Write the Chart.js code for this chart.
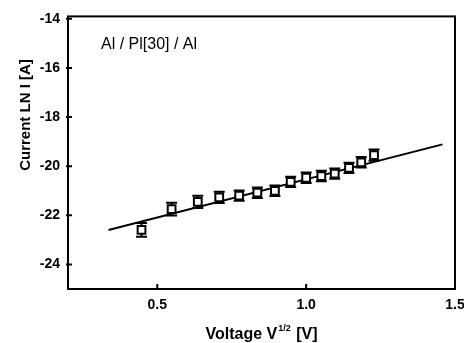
<!DOCTYPE html>
<html>
<head>
<meta charset="utf-8">
<script src="https://cdn.jsdelivr.net/npm/chart.js@4/dist/chart.umd.min.js"></script>
<style>
  html, body { margin: 0; padding: 0; background: #fff; }
  #wrap { width: 464px; height: 343px; }
</style>
</head>
<body>
<div id="wrap"><canvas id="ivChart"></canvas></div>
<script>
const voltageSqrt = [0.447, 0.548, 0.636, 0.708, 0.775, 0.836, 0.895, 0.948, 1.0, 1.051, 1.096, 1.144, 1.185, 1.228];
const lnCurrent   = [-22.59, -21.75, -21.45, -21.27, -21.2, -21.08, -21.0, -20.64, -20.47, -20.4, -20.3, -20.07, -19.84, -19.55];
const errLn       = [0.28, 0.26, 0.25, 0.23, 0.21, 0.21, 0.21, 0.21, 0.21, 0.21, 0.21, 0.21, 0.21, 0.23];

// linear fit end points
const fitX = [0.336, 1.458];
const fitY = [-22.6, -19.11];

const xTicks = [0.5, 1.0, 1.5];
const yTicks = [-24, -22, -20, -18, -16, -14];
const sampleLabel = 'Al / Pl[30] / Al';

Chart.defaults.font.family = '"Liberation Sans", Arial, sans-serif';
Chart.defaults.color = '#000';

// error bars + frame + inward ticks + axis titles
const decorations = {
  id: 'decorations',
  beforeDatasetsDraw(chart) {
    const ctx = chart.ctx;
    const xs = chart.scales.x, ys = chart.scales.y;
    ctx.save();
    ctx.strokeStyle = '#000';
    ctx.lineWidth = 2;
    voltageSqrt.forEach((v, i) => {
      const px = xs.getPixelForValue(v);
      const top = ys.getPixelForValue(lnCurrent[i] + errLn[i]);
      const bot = ys.getPixelForValue(lnCurrent[i] - errLn[i]);
      ctx.beginPath();
      ctx.moveTo(px, top); ctx.lineTo(px, bot);
      ctx.moveTo(px - 5.5, top); ctx.lineTo(px + 5.5, top);
      ctx.moveTo(px - 5.5, bot); ctx.lineTo(px + 5.5, bot);
      ctx.stroke();
    });
    ctx.restore();
  },
  afterDraw(chart) {
    const ctx = chart.ctx;
    const a = chart.chartArea;
    const xs = chart.scales.x, ys = chart.scales.y;
    ctx.save();
    ctx.strokeStyle = '#000';
    ctx.lineWidth = 2;
    ctx.strokeRect(a.left, a.top, a.right - a.left, a.bottom - a.top);

    ctx.beginPath();
    xTicks.forEach(v => {
      const px = xs.getPixelForValue(v);
      ctx.moveTo(px, a.bottom); ctx.lineTo(px, a.bottom - 5);
    });
    yTicks.forEach(v => {
      const py = ys.getPixelForValue(v);
      ctx.moveTo(a.left - 2, py); ctx.lineTo(a.left + 4, py);
    });
    ctx.stroke();

    // sample label
    ctx.fillStyle = '#000';
    ctx.font = '16px "Liberation Sans", Arial, sans-serif';
    ctx.textBaseline = 'middle';
    ctx.textAlign = 'left';
    ctx.fillText(sampleLabel, 101, 45);

    // x title with superscript
    const cx = (a.left + a.right) / 2;
    const base = 339;
    const part1 = 'Voltage V';
    const sup = '1/2';
    const part2 = ' [V]';
    ctx.textBaseline = 'alphabetic';
    ctx.font = 'bold 16px "Liberation Sans", Arial, sans-serif';
    const w1 = ctx.measureText(part1).width;
    const w3 = ctx.measureText(part2).width;
    ctx.font = 'bold 9px "Liberation Sans", Arial, sans-serif';
    const w2 = ctx.measureText(sup).width + 2;
    let sx = cx - (w1 + w2 + w3) / 2;
    ctx.font = 'bold 16px "Liberation Sans", Arial, sans-serif';
    ctx.fillText(part1, sx, base);
    ctx.font = 'bold 9px "Liberation Sans", Arial, sans-serif';
    ctx.fillText(sup, sx + w1 + 1, base - 8);
    ctx.font = 'bold 16px "Liberation Sans", Arial, sans-serif';
    ctx.fillText(part2, sx + w1 + w2, base);

    // y title
    ctx.font = 'bold 15px "Liberation Sans", Arial, sans-serif';
    ctx.translate(30, 115);
    ctx.rotate(-Math.PI / 2);
    ctx.textAlign = 'center';
    ctx.fillText('Current LN I [A]', 0, 0);
    ctx.restore();
  }
};

new Chart(document.getElementById('ivChart'), {
  type: 'scatter',
  data: {
    datasets: [
      {
        label: 'data',
        data: voltageSqrt.map((v, i) => ({ x: v, y: lnCurrent[i] })),
        pointStyle: 'rect',
        pointRadius: 5.5,
        pointBorderWidth: 2,
        pointBorderColor: '#000',
        pointBackgroundColor: '#fff',
        order: 1
      },
      {
        label: 'fit',
        type: 'line',
        data: fitX.map((v, i) => ({ x: v, y: fitY[i] })),
        borderColor: '#000',
        borderWidth: 2,
        pointRadius: 0,
        fill: false,
        order: 2
      }
    ]
  },
  options: {
    responsive: true,
    maintainAspectRatio: false,
    animation: false,
    layout: { padding: { left: 0, right: 9, top: 15, bottom: 0 } },
    scales: {
      x: {
        type: 'linear',
        min: 0.2,
        max: 1.5,
        afterBuildTicks: s => { s.ticks = xTicks.map(v => ({ value: v })); },
        afterFit: s => { s.height = 54; s.paddingRight = 0; },
        grid: { display: false, drawTicks: false },
        border: { display: false },
        ticks: {
          padding: 8,
          font: { size: 14, weight: 'bold' },
          callback: v => v.toFixed(1)
        }
      },
      y: {
        type: 'linear',
        min: -25,
        max: -13.9,
        afterBuildTicks: s => { s.ticks = yTicks.map(v => ({ value: v })); },
        afterFit: s => { s.width = 68; },
        grid: { display: false, drawTicks: false },
        border: { display: false },
        ticks: {
          padding: 8,
          font: { size: 14, weight: 'bold' }
        }
      }
    },
    plugins: {
      legend: { display: false },
      tooltip: { enabled: false }
    }
  },
  plugins: [decorations]
});
</script>
</body>
</html>
